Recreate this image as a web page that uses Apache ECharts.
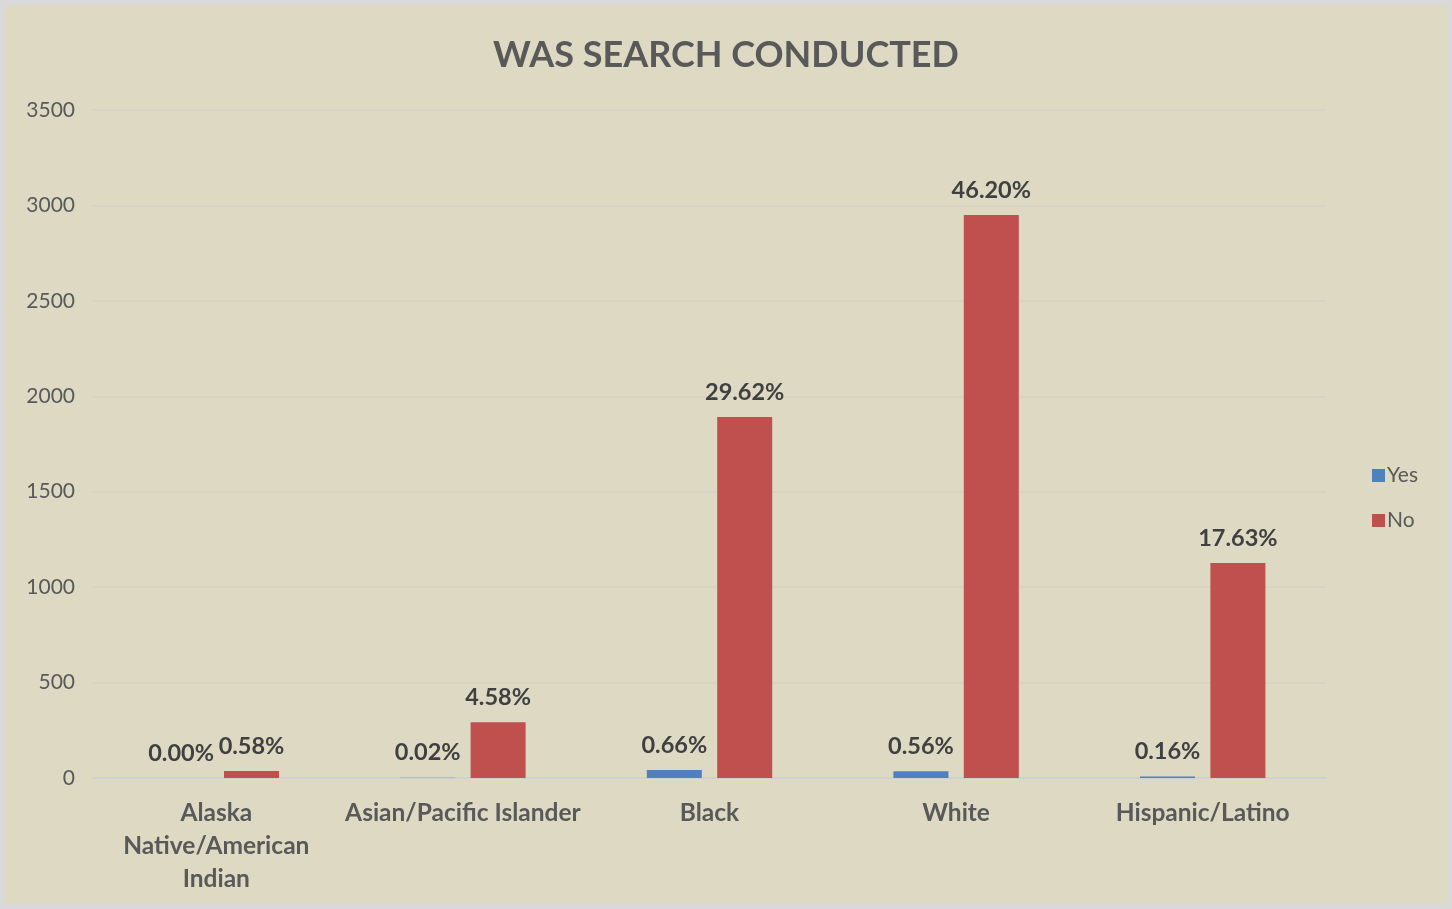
<!DOCTYPE html>
<html>
<head>
<meta charset="utf-8">
<script src="https://cdn.jsdelivr.net/npm/echarts@6/dist/echarts.min.js"></script>
<style>
html, body { margin: 0; padding: 0; background: #d9d9d9; }
#chart { position: absolute; left: 5px; top: 5px; width: 1442px; height: 899px; }
</style>
</head>
<body>
<div id="chart"></div>
<script>
var categories = ['Alaska\nNative/American\nIndian', 'Asian/Pacific Islander', 'Black', 'White', 'Hispanic/Latino'];
var yesValues = [0, 1, 42, 36, 8];
var noValues = [37, 292, 1891, 2950, 1126];
var yesLabels = ['0.00%', '0.02%', '0.66%', '0.56%', '0.16%'];
var noLabels = ['0.58%', '4.58%', '29.62%', '46.20%', '17.63%'];
var yTicks = [0, 500, 1000, 1500, 2000, 2500, 3000, 3500];

var fontName = 'Lato';

function labelStyle(texts){
    return {
        show: true,
        position: 'top',
        distance: 13,
        color: '#404040',
        fontFamily: fontName,
        fontWeight: 'bold',
        fontSize: 23.5,
        formatter: function(p){ return texts[p.dataIndex]; }
    };
}

var chart = echarts.init(document.getElementById('chart'));
var option = {
    backgroundColor: '#ddd9c3',
    animation: false,
    title: {
        text: 'WAS SEARCH CONDUCTED',
        left: 'center',
        top: 27,
        textStyle: {
            color: '#595959',
            fontFamily: fontName,
            fontWeight: 'bold',
            fontSize: 36
        }
    },
    legend: {
        orient: 'vertical',
        left: 1362,
        top: 455,
        itemWidth: 13,
        itemHeight: 13,
        itemGap: 24,
        icon: 'rect',
        textStyle: { color: '#595959', fontFamily: fontName, fontSize: 21, padding: [0, 0, 0, -3] },
        data: ['Yes', 'No']
    },
    grid: { left: 88, right: 121, top: 105, bottom: 126 },
    xAxis: {
        type: 'category',
        data: categories,
        axisTick: { show: false },
        axisLine: { lineStyle: { color: '#d0d0d0', width: 2 } },
        axisLabel: {
            interval: 0,
            margin: 19,
            color: '#595959',
            fontFamily: fontName,
            fontWeight: 'bold',
            fontSize: 24.5,
            lineHeight: 33
        }
    },
    yAxis: {
        type: 'value',
        min: yTicks[0],
        max: yTicks[yTicks.length - 1],
        interval: 500,
        axisLine: { show: false },
        axisTick: { show: false },
        splitLine: { lineStyle: { color: '#d4d2c4', width: 1.5 } },
        axisLabel: {
            margin: 18,
            color: '#595959',
            fontFamily: fontName,
            fontSize: 21,
            formatter: function(v){ return String(v); }
        }
    },
    series: [
        {
            name: 'Yes',
            type: 'bar',
            data: yesValues,
            barWidth: 55,
            barGap: '28%',
            itemStyle: { color: '#4f81bd' },
            label: labelStyle(yesLabels)
        },
        {
            name: 'No',
            type: 'bar',
            data: noValues,
            barWidth: 55,
            itemStyle: { color: '#c0504d' },
            label: labelStyle(noLabels)
        }
    ]
};
chart.setOption(option);
</script>
</body>
</html>
